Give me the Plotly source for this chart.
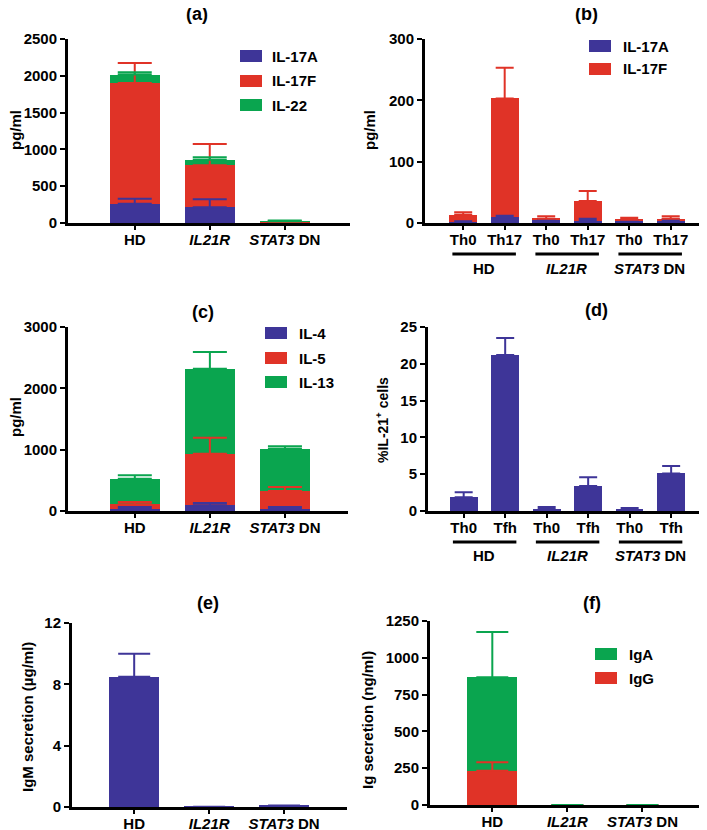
import numpy as np
import plotly.graph_objects as go

# the page body adds an 8px margin, so the figure is made that much smaller
PAGE_W, PAGE_H = 707, 830
OFF = 8
W, H = PAGE_W - OFF, PAGE_H - OFF

BLUE = "#3e3598"
RED = "#e03327"
GREEN = "#0aa54f"
FONT = "Liberation Sans, Arial, sans-serif"

groups = ["HD", "<i>IL21R</i>", "<i>STAT3</i> DN"]
sub_th17 = ["Th0", "Th17", "Th0", "Th17", "Th0", "Th17"]
sub_tfh = ["Th0", "Tfh", "Th0", "Tfh", "Th0", "Tfh"]

# (a) Th17 cytokines, pg/ml
a_names = ["IL-17A", "IL-17F", "IL-22"]
a_il17a = [263, 213, 5]
a_il17a_err = [68, 109, 5]
a_il17f = [1639, 571, 10]
a_il17f_err = [272, 290, 10]
a_il22 = [114, 77, 8]
a_il22_err = [32, 32, 12]

# (b) IL-17A / IL-17F by culture, pg/ml
b_names = ["IL-17A", "IL-17F"]
b_il17a = [2, 9, 5, 4, 4, 4]
b_il17a_err = [1, 3, 1, 3, 1, 2]
b_il17f = [11.6, 194, 2, 32, 1.4, 3]
b_il17f_err = [4, 50, 4, 16, 3.3, 4]

# (c) Th2 cytokines, pg/ml
c_names = ["IL-4", "IL-5", "IL-13"]
c_il4 = [40, 92, 38]
c_il4_err = [25, 38, 27]
c_il5 = [69, 843, 288]
c_il5_err = [38, 261, 65]
c_il13 = [418, 1386, 690]
c_il13_err = [55, 271, 38]

# (d) %IL-21+ cells
d_il21 = [1.86, 21.2, 0.32, 3.4, 0.27, 5.1]
d_il21_err = [0.68, 2.3, 0.22, 1.2, 0.13, 1.0]

# (e) IgM secretion, ug/ml
e_igm = [8.49, 0.02, 0.09]
e_igm_err = [1.5, 0, 0]

# (f) Ig secretion, ng/ml
f_names = ["IgG", "IgA"]
f_igg = [233, 0, 0]
f_igg_err = [58, 0, 0]
f_iga = [635, 0, 0]
f_iga_err = [307, 0, 0]


def px_x(x):
    return (x - OFF) / W


def px_y(y):
    return 1 - (y - OFF) / H


fig = go.Figure()


def add_stack(n, series, errs, colors, cap):
    xs = np.arange(len(series[0]))
    for vals, col in zip(series, colors):
        fig.add_trace(go.Bar(x=xs, y=vals, width=0.667, marker=dict(color=col, line=dict(width=0)),
                             xaxis=f"x{n}", yaxis=f"y{n}", showlegend=False, hoverinfo="skip"))
    # error bars sit on top of each stacked segment, drawn above all bars
    tops = np.cumsum(np.array(series, dtype=float), axis=0)
    for top, err, col in zip(tops, errs, colors):
        err = np.array(err, dtype=float)
        err[err == 0] = np.nan
        fig.add_trace(go.Scatter(
            x=xs, y=top, mode="markers", marker=dict(size=1, color="rgba(0,0,0,0)"),
            error_y=dict(type="data", symmetric=False, array=err, arrayminus=np.zeros(len(xs)),
                         color=col, thickness=2, width=cap),
            xaxis=f"x{n}", yaxis=f"y{n}", showlegend=False, hoverinfo="skip"))


add_stack(1, [a_il17a, a_il17f, a_il22], [a_il17a_err, a_il17f_err, a_il22_err], [BLUE, RED, GREEN], 17)
add_stack(2, [b_il17a, b_il17f], [b_il17a_err, b_il17f_err], [BLUE, RED], 9)
add_stack(3, [c_il4, c_il5, c_il13], [c_il4_err, c_il5_err, c_il13_err], [BLUE, RED, GREEN], 17)
add_stack(4, [d_il21], [d_il21_err], [BLUE], 9)
add_stack(5, [e_igm], [e_igm_err], [BLUE], 16)
add_stack(6, [f_igg, f_iga], [f_igg_err, f_iga_err], [RED, GREEN], 16)

tick_font = dict(family=FONT, size=15, color="black", weight="bold")

# panel geometry in page pixels: x-left, x-right, y-top, y-bottom, x-range, y-range, dtick, labels
panels = [
    (68, 350, 39, 223, [-0.89, 2.87], [0, 2500], 500, groups),
    (425, 706, 39, 223, [-0.92, 5.85], [0, 300], 100, sub_th17),
    (68, 348, 327, 511, [-0.89, 2.84], [0, 3000], 1000, groups),
    (428, 706, 327, 511, [-0.86, 5.84], [0, 25], 5, sub_tfh),
    (72, 347, 623, 807, [-0.83, 2.84], [0, 12], 4, groups),
    (430, 707, 621, 805, [-0.83, 2.86], [0, 1250], 250, groups),
]

layout = dict(
    width=W, height=H, margin=dict(l=0, r=0, t=0, b=0, autoexpand=False),
    paper_bgcolor="white", plot_bgcolor="white", barmode="stack",
    showlegend=False, font=dict(family=FONT, color="black"),
)
for i, (x0, x1, yt, yb, xr, yr, dt, labels) in enumerate(panels, start=1):
    sfx = "" if i == 1 else str(i)
    layout[f"xaxis{sfx}"] = dict(
        domain=[px_x(x0), min(px_x(x1), 1)], range=xr, anchor=f"y{i}", automargin=False,
        tickvals=list(range(len(labels))), ticktext=labels,
        ticks="outside", ticklen=4, tickwidth=2, tickcolor="black", ticklabelstandoff=-3,
        showline=True, linewidth=3, linecolor="black", showgrid=False, zeroline=False,
        tickfont=tick_font, fixedrange=True,
    )
    layout[f"yaxis{sfx}"] = dict(
        domain=[px_y(yb), px_y(yt)], range=yr, anchor=f"x{i}", dtick=dt, automargin=False,
        ticks="outside", ticklen=5, tickwidth=2, tickcolor="black",
        showline=True, linewidth=3, linecolor="black", showgrid=False, zeroline=False,
        tickfont=tick_font, fixedrange=True,
    )
fig.update_layout(**layout)

bold = dict(family=FONT, color="black", weight="bold")


def note(text, x, y, size=15, xref="paper", xanchor="center", angle=0):
    fig.add_annotation(text=text, x=x, y=px_y(y), xref=xref, yref="paper",
                       xanchor=xanchor, yanchor="middle", textangle=angle,
                       showarrow=False, font=dict(size=size, **bold))


# panel titles
for txt, x, y in [("(a)", 197, 14), ("(b)", 586, 14), ("(c)", 203, 312),
                  ("(d)", 596, 310), ("(e)", 208, 603), ("(f)", 592, 603)]:
    note(txt, px_x(x), y, size=18)

# y axis titles
for txt, x, y, sz in [("pg/ml", 15, 130, 15), ("pg/ml", 369, 130, 15), ("pg/ml", 15, 417, 15),
                      ("%IL-21<sup>+</sup> cells", 382, 420, 14),
                      ("IgM secretion (µg/ml)", 27, 717, 15),
                      ("Ig secretion (ng/ml)", 367, 720, 15)]:
    note(txt, px_x(x), y, size=sz, angle=-90)


def legend_block(x_sw, x_txt, ys, names, colors):
    for yc, name, col in zip(ys, names, colors):
        fig.add_shape(type="rect", xref="paper", yref="paper",
                      x0=px_x(x_sw), x1=px_x(x_sw + 22), y0=px_y(yc + 6), y1=px_y(yc - 6),
                      fillcolor=col, line=dict(width=0))
        note(name, px_x(x_txt), yc, xanchor="left")


legend_block(240, 270, [56, 81, 105], a_names, [BLUE, RED, GREEN])
legend_block(589, 621, [46, 69], b_names, [BLUE, RED])
legend_block(265, 297, [333, 358, 382], c_names, [BLUE, RED, GREEN])
legend_block(595, 627, [654, 678], f_names[::-1], [GREEN, RED])

# group brackets under (b) and (d)
for n, y_line, y_lab in [(2, 254, 268), (4, 542, 555)]:
    for g, name in enumerate(groups):
        i0, i1 = 2 * g, 2 * g + 1
        fig.add_shape(type="line", xref=f"x{n}", yref="paper",
                      x0=i0 - 0.26, x1=i1 + 0.27, y0=px_y(y_line), y1=px_y(y_line),
                      line=dict(color="black", width=3))
        note(name, (i0 + i1) / 2, y_lab, xref=f"x{n}")

fig.write_html("out.html")
